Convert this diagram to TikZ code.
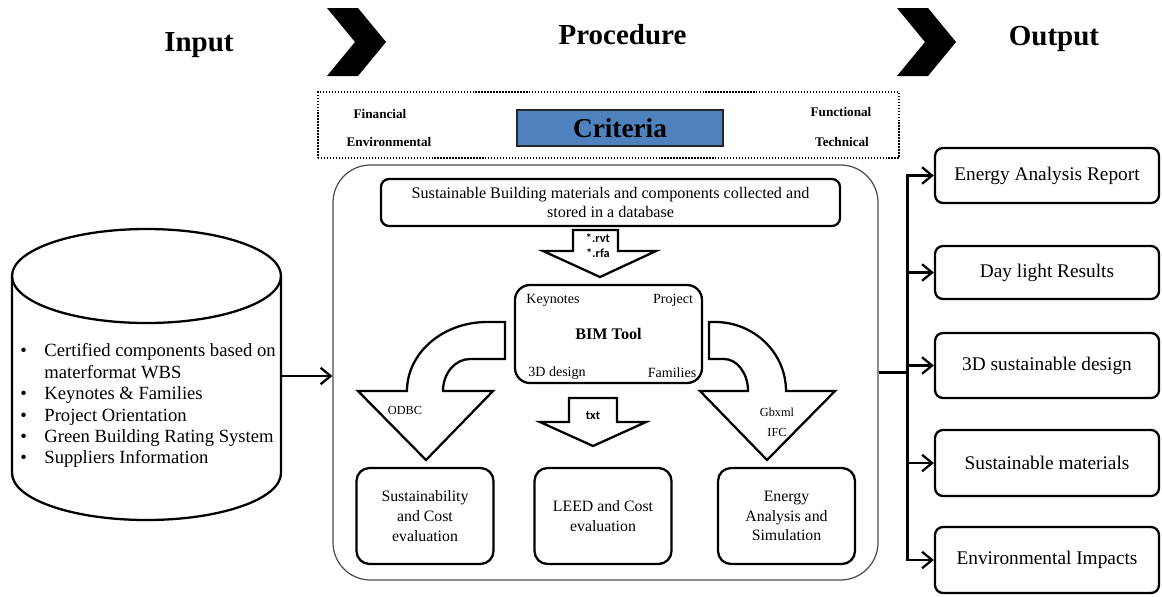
\documentclass[tikz,border=0pt]{standalone}
\usepackage{fontspec}
\setmainfont{Liberation Serif}
\newfontfamily\tagfont{Carlito}
\usetikzlibrary{arrows.meta, positioning}
\newlength{\pxl}\setlength{\pxl}{0.02cm}
\definecolor{critblue}{RGB}{79,129,189}
\tikzset{
  hdr/.style     = {font=\fontsize{16.5}{19}\selectfont\bfseries, anchor=base},
  chev/.style    = {fill=black},
  critbox/.style = {draw=black!85, line width=0.9pt, fill=critblue,
                    font=\fontsize{15.5}{18}\selectfont\bfseries,
                    minimum width=206*\pxl, minimum height=36*\pxl},
  critlbl/.style = {font=\fontsize{7.5}{9}\selectfont\bfseries, inner sep=1pt},
  frame/.style   = {draw=black!70, line width=0.7pt, rounded corners=0.75cm},
  box/.style     = {draw, line width=1.3pt, align=center, inner sep=2pt},
  evalbox/.style = {box, rounded corners=0.26cm, minimum width=137*\pxl,
                    minimum height=96*\pxl, font=\fontsize{9}{11.3}\selectfont},
  outbox/.style  = {box, rounded corners=0.16cm, minimum width=224*\pxl,
                    font=\fontsize{11}{13}\selectfont},
  bimlbl/.style  = {font=\fontsize{8}{9}\selectfont, inner sep=1pt},
  tag/.style     = {font=\tagfont\fontsize{7}{8.5}\selectfont\bfseries, align=center, inner sep=1pt},
  fmt/.style     = {font=\fontsize{7}{11.3}\selectfont, align=center, inner sep=1pt},
  barrow/.style  = {draw, line width=1.3pt, fill=white},
  fl/.style      = {-{Straight Barb[length=2mm, width=3.3mm]}, line width=1.3pt},
}

\begin{document}
\begin{tikzpicture}[x=0.02cm, y=0.02cm]
    \useasboundingbox (0,0) rectangle (1162,-596);
    % headings and chevrons
    \node[hdr] (hin) at (199,-51) {Input};
    \node[hdr] (hproc) at (622.5,-44) {Procedure};
    \node[hdr] (hout) at (1054,-45) {Output};
    \fill[chev] (327,-8) -- (358,-8) -- (386,-42) -- (358,-76) -- (327,-76) -- (355,-42) -- cycle;
    \fill[chev] (897,-8) -- (928,-8) -- (956,-42) -- (928,-76) -- (897,-76) -- (925,-42) -- cycle;
    % criteria
    \node[draw, densely dotted, line width=0.7pt, minimum width=581*\pxl, minimum height=66*\pxl] (cf) at (608.5,-125) {};
    \node[critbox] (crit) at (620,-128) {Criteria};
    \node[critlbl] (fin) at (380,-114) {Financial};
    \node[critlbl] (env) at (389,-142) {Environmental};
    \node[critlbl] (fun) at (841,-112) {Functional};
    \node[critlbl] (tec) at (842,-142) {Technical};
    % input cylinder
    \draw[line width=1.3pt] (146.5,-276) ellipse [x radius=134.5, y radius=47];
    \draw[line width=1.3pt] (12,-276) -- (12,-473)
      arc[start angle=180, end angle=360, x radius=134.5, y radius=47] -- (281,-276);
    \node[anchor=west, font=\fontsize{10.6}{12.2}\selectfont, inner sep=0pt] (inp) at (20,-406) {%
      \begin{tabular}{@{}l@{\hspace{10pt}}l@{}}
      \textbullet & Certified components based on\\
                  & materformat WBS\\
      \textbullet & Keynotes \& Families\\
      \textbullet & Project Orientation\\
      \textbullet & Green Building Rating System\\
      \textbullet & Suppliers Information
      \end{tabular}};
    \coordinate (cyle) at (281,-376);
    % procedure
    \node[frame, minimum width=545*\pxl, minimum height=415*\pxl] (proc) at (605.5,-372.5) {};
    \draw[fl] (cyle) -- (cyle -| proc.west);
    \node[box, rounded corners=0.16cm, minimum width=459*\pxl, minimum height=47*\pxl,
          font=\fontsize{9.2}{11}\selectfont] (db) at (610.5,-202.5)
      {Sustainable Building materials and components collected and\\ stored in a database};
    \draw[barrow] (573,-230) -- (618,-230) -- (618,-251) -- (656,-251) -- (600,-277)
      -- (543,-251) -- (573,-251) -- cycle;
    \node[tag] (rvt) at (598,-246) {*.rvt\\ *.rfa};
    \node[box, rounded corners=0.3cm, minimum width=187*\pxl, minimum height=98*\pxl,
          font=\fontsize{9.2}{11}\selectfont\bfseries] (bim) at (608.5,-334) {BIM Tool};
    \node[bimlbl] (kn) at (553,-300) {Keynotes};
    \node[bimlbl] (pj) at (673,-300) {Project};
    \node[bimlbl] (d3) at (557,-373) {3D design};
    \node[bimlbl] (fam) at (672,-373) {Families};
    % block arrows to the evaluations
    \draw[barrow] (505,-322) -- (487,-322) arc[start angle=90, end angle=180, x radius=80, y radius=69]
      -- (358,-391) -- (426,-460) -- (493,-391) -- (443,-391)
      arc[start angle=180, end angle=90, x radius=27, y radius=32] -- (505,-359) -- cycle;
    \node[fmt] (odbc) at (405,-410) {ODBC};
    \draw[barrow] (569,-398) -- (617,-398) -- (617,-422) -- (646,-422) -- (593,-446)
      -- (540,-422) -- (569,-422) -- cycle;
    \node[tag] (txt) at (593,-416) {txt};
    \draw[barrow] (709,-322) -- (715,-322) arc[start angle=90, end angle=0, x radius=71, y radius=69]
      -- (835,-391) -- (767,-460) -- (700,-391) -- (748,-391)
      arc[start angle=0, end angle=90, x radius=24, y radius=32] -- (709,-359) -- cycle;
    \node[fmt] (gbx) at (777,-422) {Gbxml\\ IFC};
    \node[evalbox] (sce) at (425,-516) {Sustainability\\ and Cost\\ evaluation};
    \node[evalbox] (lce) at (603,-516) {LEED and Cost\\ evaluation};
    \node[evalbox] (eas) at (786.5,-516) {Energy\\ Analysis and\\ Simulation};
    % outputs
    \node[outbox, minimum height=55*\pxl] (o1) at (1047,-175.5) {Energy Analysis Report};
    \node[outbox, minimum height=53*\pxl] (o2) at (1047,-272.5) {Day light Results};
    \node[outbox, minimum height=65*\pxl] (o3) at (1047,-365.5) {3D sustainable design};
    \node[outbox, minimum height=66*\pxl] (o4) at (1047,-463) {Sustainable materials};
    \node[outbox, minimum height=66*\pxl] (o5) at (1047,-560) {Environmental Impacts};
    \path (proc.east) -- ++(29,0) coordinate (jn);
    \draw[line width=1.3pt] (proc.east) -- (jn);
    \draw[fl] (jn) |- (o1.west);
    \draw[fl] (jn) |- (o2.west);
    \draw[fl] (jn) |- (o3.west);
    \draw[fl] (jn) |- (o4.west);
    \draw[fl] (jn) |- (o5.west);
\end{tikzpicture}
\end{document}
